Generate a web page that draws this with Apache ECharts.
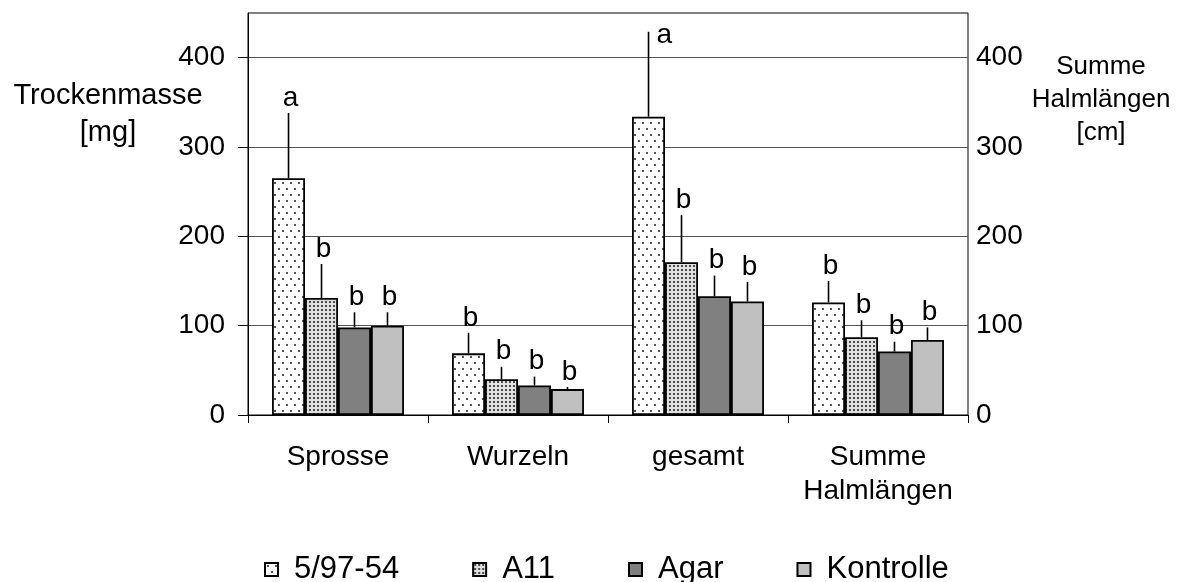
<!DOCTYPE html>
<html>
<head>
<meta charset="utf-8">
<script src="https://cdn.jsdelivr.net/npm/echarts@6/dist/echarts.min.js"></script>
<style>
  html, body { margin: 0; padding: 0; background: #fff; }
  #chart { width: 1183px; height: 582px; }
</style>
</head>
<body>
<div id="chart"></div>
<script>
// Groups on the category axis and the four treatments
const categories = ['Sprosse', 'Wurzeln', 'gesamt', 'Summe\nHalmlängen'];
const seriesNames = ['5/97-54', 'A11', 'Agar', 'Kontrolle'];

// Mean values per group
const meanStrain = [265, 69, 334, 126];
const meanA11 = [131, 40, 171, 87];
const meanAgar = [98, 33, 133, 71];
const meanKontrolle = [100, 29, 127, 84];

// Upper error (standard deviation) per group
const errStrain = [73, 23, 95, 24];
const errA11 = [38, 14, 53, 19];
const errAgar = [17, 10, 23, 11];
const errKontrolle = [15, 2.5, 22, 14];

// Significance letters per group
const lettersStrain = ['a', 'b', 'a', 'b'];
const lettersA11 = ['b', 'b', 'b', 'b'];
const lettersAgar = ['b', 'b', 'b', 'b'];
const lettersKontrolle = ['b', 'b', 'b', 'b'];

// Tick labels shared by both value axes
const yTicks = [0, 100, 200, 300, 400];

const means = [meanStrain, meanA11, meanAgar, meanKontrolle];
const errs = [errStrain, errA11, errAgar, errKontrolle];
const letters = [lettersStrain, lettersA11, lettersAgar, lettersKontrolle];

const FONT = '"Liberation Sans", Arial, sans-serif';
const CAT_GAP = 0.267;

// Tiled fills for the bars
function tile(w, h, bg, dots, dotColor, size) {
  const c = document.createElement('canvas');
  c.width = w; c.height = h;
  const g = c.getContext('2d');
  g.fillStyle = bg;
  g.fillRect(0, 0, w, h);
  g.fillStyle = dotColor;
  dots.forEach(function (d) { g.fillRect(d[0], d[1], size, size); });
  return { image: c, repeat: 'repeat' };
}
const fills = [
  tile(8, 12, '#ffffff', [[2, 2], [6, 8]], '#555555', 2),
  tile(4, 4, '#e0e0e0', [[1, 1]], '#4a4a4a', 2),
  '#808080',
  '#c0c0c0'
];

const barSeries = seriesNames.map(function (name, s) {
  return {
    name: name,
    type: 'bar',
    data: means[s],
    barGap: '0%',
    barCategoryGap: (CAT_GAP * 100) + '%',
    itemStyle: { color: fills[s], borderColor: '#000', borderWidth: 1.8 },
    emphasis: { disabled: true },
    z: 2
  };
});

// Error bars (upper whisker only) and letters, one item per bar
const errItems = [];
seriesNames.forEach(function (name, s) {
  categories.forEach(function (c, i) {
    errItems.push([i, s, means[s][i], errs[s][i]]);
  });
});

function renderErr(params, api) {
  const item = errItems[params.dataIndex];
  const cat = item[0], s = item[1], mean = item[2], err = item[3];
  const band = api.size([1, 0])[0];
  const barW = band * (1 - CAT_GAP) / seriesNames.length;
  const off = (s - (seriesNames.length - 1) / 2) * barW;
  const p0 = api.coord([cat, mean]);
  const p1 = api.coord([cat, mean + err]);
  const top = api.coord([cat, 450])[1];
  const x = p0[0] + off;
  const letter = letters[s][cat];
  // letter sits on top of the whisker, or beside it when there is no room above
  const fitsAbove = (p1[1] - 34) > top;
  const text = fitsAbove
    ? { type: 'text', x: x + 2, y: p1[1] - 1,
        style: { text: letter, fill: '#000', font: '28px ' + FONT, align: 'center', verticalAlign: 'bottom' } }
    : { type: 'text', x: x + 8, y: p1[1] + 18,
        style: { text: letter, fill: '#000', font: '28px ' + FONT, align: 'left', verticalAlign: 'bottom' } };
  return {
    type: 'group',
    children: [
      { type: 'line', shape: { x1: x, y1: p0[1], x2: x, y2: p1[1] },
        style: { stroke: '#000', lineWidth: 1.6 } },
      text
    ]
  };
}

const chart = echarts.init(document.getElementById('chart'), null, { renderer: 'canvas' });
chart.setOption({
  animation: false,
  backgroundColor: '#fff',
  textStyle: { fontFamily: FONT, color: '#000' },
  grid: {
    left: 248, right: 215, top: 13, bottom: 167,
    show: true, borderColor: '#000', borderWidth: 1, backgroundColor: 'transparent'
  },
  legend: {
    data: seriesNames,
    left: 259, top: 549,
    itemWidth: 13, itemHeight: 13, itemGap: 73,
    icon: 'rect',
    textStyle: { fontSize: 31, color: '#000', fontFamily: FONT, padding: [0, 0, 0, 11] },
    selectedMode: false
  },
  xAxis: {
    type: 'category',
    data: categories,
    axisLine: { lineStyle: { color: '#000', width: 1 } },
    axisTick: { show: true, alignWithLabel: false, interval: 0, length: 8, lineStyle: { color: '#000' } },
    axisLabel: { interval: 0, fontSize: 28, color: '#000', margin: 25, lineHeight: 34, fontFamily: FONT },
    splitLine: { show: false }
  },
  yAxis: [
    {
      type: 'value', position: 'left',
      min: 0, max: 450, interval: 100,
      axisLine: { show: true, lineStyle: { color: '#000', width: 1 } },
      axisTick: { show: true, inside: false, length: 10, customValues: yTicks, lineStyle: { color: '#000' } },
      axisLabel: { fontSize: 28, color: '#000', margin: 23, customValues: yTicks, fontFamily: FONT },
      splitLine: { show: true, lineStyle: { color: '#555', width: 1 } }
    },
    {
      type: 'value', position: 'right',
      min: 0, max: 450, interval: 100,
      axisLine: { show: true, lineStyle: { color: '#808080', width: 1 } },
      axisTick: { show: false },
      axisLabel: { fontSize: 28, color: '#000', margin: 8, customValues: yTicks, fontFamily: FONT },
      splitLine: { show: false }
    }
  ],
  graphic: [
    { type: 'text', x: 108, y: 77,
      style: { text: 'Trockenmasse\n[mg]', font: '29px ' + FONT, fill: '#000',
               align: 'center', verticalAlign: 'top', lineHeight: 37 } },
    { type: 'text', x: 1101, y: 50,
      style: { text: 'Summe\nHalmlängen\n[cm]', font: '26px ' + FONT, fill: '#000',
               align: 'center', verticalAlign: 'top', lineHeight: 33 } }
  ],
  series: barSeries.concat([{
    type: 'custom',
    name: 'errors',
    renderItem: renderErr,
    data: errItems.map(function (d) { return [d[0], d[2] + d[3]]; }),
    encode: { x: 0, y: 1 },
    silent: true,
    z: 3
  }])
});
</script>
</body>
</html>
